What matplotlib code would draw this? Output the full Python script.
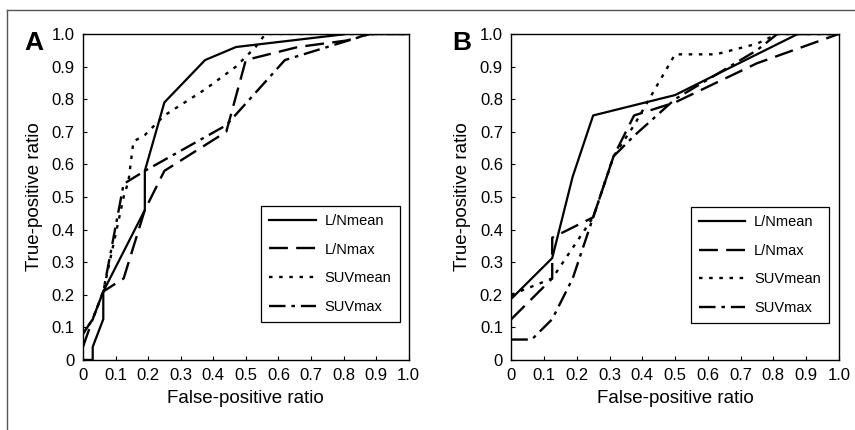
import matplotlib
matplotlib.use("Agg")
import matplotlib.pyplot as plt
from matplotlib.lines import Line2D

plt.rcParams['font.family'] = ['Liberation Sans', 'DejaVu Sans']

# ROC points, panel A
a_lnmean_x = [0, 0.03, 0.03, 0.0625, 0.0625, 0.19, 0.19, 0.25, 0.375, 0.47, 0.81, 1.0]
a_lnmean_y = [0, 0, 0.04, 0.125, 0.21, 0.46, 0.58, 0.79, 0.92, 0.96, 1.0, 1.0]
a_lnmax_x = [0, 0.03, 0.0625, 0.125, 0.19, 0.25, 0.44, 0.5, 0.66, 0.81, 0.88, 1.0]
a_lnmax_y = [0.04, 0.125, 0.21, 0.25, 0.46, 0.58, 0.70, 0.92, 0.96, 0.98, 1.0, 1.0]
a_suvmean_x = [0, 0.03, 0.0625, 0.125, 0.14, 0.155, 0.19, 0.25, 0.375, 0.47, 0.53, 0.56, 1.0]
a_suvmean_y = [0.08, 0.125, 0.21, 0.5, 0.55, 0.67, 0.69, 0.75, 0.83, 0.9, 0.96, 1.0, 1.0]
a_suvmax_x = [0, 0.03, 0.0625, 0.125, 0.19, 0.44, 0.62, 0.75, 0.88, 1.0]
a_suvmax_y = [0.08, 0.125, 0.21, 0.54, 0.58, 0.72, 0.92, 0.96, 1.0, 1.0]

# panel B
b_lnmean_x = [0, 0.125, 0.1875, 0.25, 0.5, 0.875, 1.0]
b_lnmean_y = [0.1875, 0.3125, 0.5625, 0.75, 0.8125, 1.0, 1.0]
b_lnmax_x = [0, 0.125, 0.125, 0.25, 0.3125, 0.375, 0.5, 0.75, 1.0]
b_lnmax_y = [0.125, 0.25, 0.375, 0.4375, 0.625, 0.75, 0.79, 0.91, 1.0]
b_suvmean_x = [0, 0.125, 0.25, 0.3125, 0.375, 0.5, 0.625, 0.75, 0.8125, 1.0]
b_suvmean_y = [0.2, 0.25, 0.4375, 0.625, 0.72, 0.9375, 0.9375, 0.97, 1.0, 1.0]
b_suvmax_x = [0, 0.0625, 0.125, 0.1875, 0.25, 0.3125, 0.375, 0.5, 0.625, 0.75, 0.8125, 1.0]
b_suvmax_y = [0.0625, 0.0625, 0.125, 0.25, 0.4375, 0.625, 0.6875, 0.8, 0.875, 0.95, 1.0, 1.0]

labels = ['L/Nmean', 'L/Nmax', 'SUVmean', 'SUVmax']
tick_vals = [0, 0.1, 0.2, 0.3, 0.4, 0.5, 0.6, 0.7, 0.8, 0.9, 1.0]
tick_labels = ['0', '0.1', '0.2', '0.3', '0.4', '0.5', '0.6', '0.7', '0.8', '0.9', '1.0']

styles = [
    dict(linestyle='-', lw=1.6),
    dict(linestyle=(0, (8, 3.5)), lw=1.7),
    dict(linestyle=(0, (1.5, 2.8)), lw=1.7),
    dict(linestyle=(0, (7, 2.5, 1.5, 2.5)), lw=1.7),
]

fig = plt.figure(figsize=(8.55, 4.3), dpi=100)
ax_a = fig.add_axes([0.097, 0.163, 0.381, 0.758])
ax_b = fig.add_axes([0.598, 0.163, 0.383, 0.758])

panels = [
    (ax_a, 'A', [(a_lnmean_x, a_lnmean_y), (a_lnmax_x, a_lnmax_y),
                 (a_suvmean_x, a_suvmean_y), (a_suvmax_x, a_suvmax_y)], (0.972, 0.117)),
    (ax_b, 'B', [(b_lnmean_x, b_lnmean_y), (b_lnmax_x, b_lnmax_y),
                 (b_suvmean_x, b_suvmean_y), (b_suvmax_x, b_suvmax_y)], (0.97, 0.113)),
]

for ax, letter, series, anchor in panels:
    for (xs, ys), lab, st in zip(series, labels, styles):
        ax.plot(xs, ys, color='black', label=lab, **st)
    ax.set_xlim(0, 1)
    ax.set_ylim(0, 1)
    ax.set_xticks(tick_vals)
    ax.set_xticklabels(tick_labels)
    ax.set_yticks(tick_vals)
    ax.set_yticklabels(tick_labels)
    ax.tick_params(direction='in', length=3, width=0.8, labelsize=12, pad=6)
    for sp in ax.spines.values():
        sp.set_linewidth(1.0)
    ax.set_xlabel('False-positive ratio', fontsize=13.5, labelpad=5)
    ax.set_ylabel('True-positive ratio', fontsize=13.5, labelpad=6)
    ax.text(-0.15, 1.01, letter, transform=ax.transAxes, fontsize=19,
            fontweight='bold', ha='center', va='top')
    leg = ax.legend(loc='lower right', bbox_to_anchor=anchor, fontsize=10.5,
                    handlelength=3.2, labelspacing=1.0, borderpad=0.55,
                    handletextpad=0.6, borderaxespad=0, fancybox=False,
                    edgecolor='black', framealpha=1)
    leg.get_frame().set_linewidth(0.9)

# thin frame around the figure
fig.add_artist(Line2D([0.008, 1.0], [0.977, 0.977], color='#555555', lw=1.0))
fig.add_artist(Line2D([0.008, 0.008], [0.0, 0.977], color='#555555', lw=1.0))

fig.savefig('out.png', dpi=100)
